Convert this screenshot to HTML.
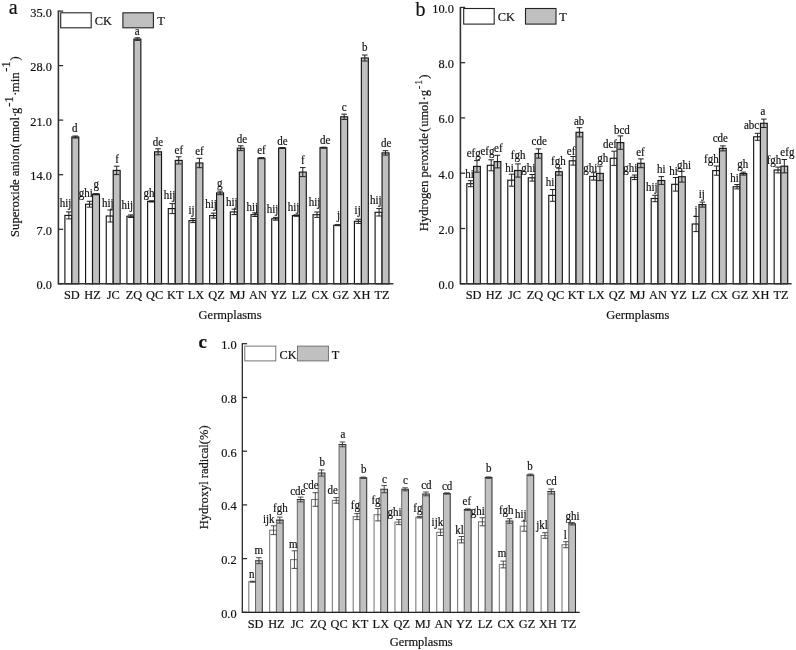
<!DOCTYPE html>
<html><head><meta charset="utf-8"><title>chart</title>
<style>html,body{margin:0;padding:0;background:#fff;}svg{display:block;will-change:transform;filter:grayscale(1);}text{font-family:"Liberation Serif",serif;fill:#111;stroke:#111;stroke-width:0.18px;}</style></head><body>
<svg width="796" height="650" viewBox="0 0 796 650">
<rect x="0" y="0" width="796" height="650" fill="#fff"/>
<g id="panel-a">
<rect x="64.9" y="215.4" width="6.95" height="68.4" fill="#fff" stroke="#151515" stroke-width="1.15"/>
<rect x="71.85" y="137" width="6.95" height="146.8" fill="#c0c0c0" stroke="#151515" stroke-width="1.15"/>
<rect x="85.58" y="204.2" width="6.95" height="79.6" fill="#fff" stroke="#151515" stroke-width="1.15"/>
<rect x="92.53" y="194.2" width="6.95" height="89.6" fill="#c0c0c0" stroke="#151515" stroke-width="1.15"/>
<rect x="106.26" y="216" width="6.95" height="67.8" fill="#fff" stroke="#151515" stroke-width="1.15"/>
<rect x="113.21" y="170.4" width="6.95" height="113.4" fill="#c0c0c0" stroke="#151515" stroke-width="1.15"/>
<rect x="126.94" y="216.2" width="6.95" height="67.6" fill="#fff" stroke="#151515" stroke-width="1.15"/>
<rect x="133.89" y="39.1" width="6.95" height="244.7" fill="#c0c0c0" stroke="#151515" stroke-width="1.15"/>
<rect x="147.62" y="201.4" width="6.95" height="82.4" fill="#fff" stroke="#151515" stroke-width="1.15"/>
<rect x="154.57" y="151.8" width="6.95" height="132" fill="#c0c0c0" stroke="#151515" stroke-width="1.15"/>
<rect x="168.3" y="208.6" width="6.95" height="75.2" fill="#fff" stroke="#151515" stroke-width="1.15"/>
<rect x="175.25" y="160.4" width="6.95" height="123.4" fill="#c0c0c0" stroke="#151515" stroke-width="1.15"/>
<rect x="188.98" y="220.6" width="6.95" height="63.2" fill="#fff" stroke="#151515" stroke-width="1.15"/>
<rect x="195.93" y="163" width="6.95" height="120.8" fill="#c0c0c0" stroke="#151515" stroke-width="1.15"/>
<rect x="209.66" y="215.6" width="6.95" height="68.2" fill="#fff" stroke="#151515" stroke-width="1.15"/>
<rect x="216.61" y="192.9" width="6.95" height="90.9" fill="#c0c0c0" stroke="#151515" stroke-width="1.15"/>
<rect x="230.34" y="211.9" width="6.95" height="71.9" fill="#fff" stroke="#151515" stroke-width="1.15"/>
<rect x="237.29" y="148.2" width="6.95" height="135.6" fill="#c0c0c0" stroke="#151515" stroke-width="1.15"/>
<rect x="251.02" y="214.7" width="6.95" height="69.1" fill="#fff" stroke="#151515" stroke-width="1.15"/>
<rect x="257.97" y="158.2" width="6.95" height="125.6" fill="#c0c0c0" stroke="#151515" stroke-width="1.15"/>
<rect x="271.7" y="218.8" width="6.95" height="65" fill="#fff" stroke="#151515" stroke-width="1.15"/>
<rect x="278.65" y="148" width="6.95" height="135.8" fill="#c0c0c0" stroke="#151515" stroke-width="1.15"/>
<rect x="292.38" y="215.6" width="6.95" height="68.2" fill="#fff" stroke="#151515" stroke-width="1.15"/>
<rect x="299.33" y="172.1" width="6.95" height="111.7" fill="#c0c0c0" stroke="#151515" stroke-width="1.15"/>
<rect x="313.06" y="214.7" width="6.95" height="69.1" fill="#fff" stroke="#151515" stroke-width="1.15"/>
<rect x="320.01" y="147.7" width="6.95" height="136.1" fill="#c0c0c0" stroke="#151515" stroke-width="1.15"/>
<rect x="333.74" y="225.2" width="6.95" height="58.6" fill="#fff" stroke="#151515" stroke-width="1.15"/>
<rect x="340.69" y="116.8" width="6.95" height="167" fill="#c0c0c0" stroke="#151515" stroke-width="1.15"/>
<rect x="354.42" y="221.3" width="6.95" height="62.5" fill="#fff" stroke="#151515" stroke-width="1.15"/>
<rect x="361.37" y="58" width="6.95" height="225.8" fill="#c0c0c0" stroke="#151515" stroke-width="1.15"/>
<rect x="375.1" y="212.3" width="6.95" height="71.5" fill="#fff" stroke="#151515" stroke-width="1.15"/>
<rect x="382.05" y="152.9" width="6.95" height="130.9" fill="#c0c0c0" stroke="#151515" stroke-width="1.15"/>
<path d="M68.88 211.9V218.9M66.08 211.9H71.67M66.08 218.9H71.67" stroke="#222" stroke-width="1.0" fill="none"/>
<path d="M75.33 136V138M72.53 136H78.12M72.53 138H78.12" stroke="#222" stroke-width="1.0" fill="none"/>
<path d="M89.56 201.3V207.1M86.76 201.3H92.36M86.76 207.1H92.36" stroke="#222" stroke-width="1.0" fill="none"/>
<path d="M96.01 193.6V194.8M93.21 193.6H98.81M93.21 194.8H98.81" stroke="#222" stroke-width="1.0" fill="none"/>
<path d="M110.23 210V222M107.44 210H113.03M107.44 222H113.03" stroke="#222" stroke-width="1.0" fill="none"/>
<path d="M116.69 166.2V174.6M113.89 166.2H119.48M113.89 174.6H119.48" stroke="#222" stroke-width="1.0" fill="none"/>
<path d="M130.91 214.9V217.5M128.11 214.9H133.72M128.11 217.5H133.72" stroke="#222" stroke-width="1.0" fill="none"/>
<path d="M137.36 37.8V40.4M134.56 37.8H140.16M134.56 40.4H140.16" stroke="#222" stroke-width="1.0" fill="none"/>
<path d="M151.59 200.8V202M148.79 200.8H154.4M148.79 202H154.4" stroke="#222" stroke-width="1.0" fill="none"/>
<path d="M158.04 148.8V154.8M155.24 148.8H160.84M155.24 154.8H160.84" stroke="#222" stroke-width="1.0" fill="none"/>
<path d="M172.28 203.6V213.6M169.47 203.6H175.08M169.47 213.6H175.08" stroke="#222" stroke-width="1.0" fill="none"/>
<path d="M178.72 156.8V164M175.92 156.8H181.53M175.92 164H181.53" stroke="#222" stroke-width="1.0" fill="none"/>
<path d="M192.96 218.6V222.6M190.16 218.6H195.76M190.16 222.6H195.76" stroke="#222" stroke-width="1.0" fill="none"/>
<path d="M199.41 158.3V167.7M196.6 158.3H202.21M196.6 167.7H202.21" stroke="#222" stroke-width="1.0" fill="none"/>
<path d="M213.63 213.1V218.1M210.83 213.1H216.44M210.83 218.1H216.44" stroke="#222" stroke-width="1.0" fill="none"/>
<path d="M220.08 191.1V194.7M217.28 191.1H222.88M217.28 194.7H222.88" stroke="#222" stroke-width="1.0" fill="none"/>
<path d="M234.31 209.2V214.6M231.51 209.2H237.12M231.51 214.6H237.12" stroke="#222" stroke-width="1.0" fill="none"/>
<path d="M240.76 145.8V150.6M237.96 145.8H243.56M237.96 150.6H243.56" stroke="#222" stroke-width="1.0" fill="none"/>
<path d="M255 212.9V216.5M252.19 212.9H257.8M252.19 216.5H257.8" stroke="#222" stroke-width="1.0" fill="none"/>
<path d="M261.45 157.7V158.7M258.65 157.7H264.25M258.65 158.7H264.25" stroke="#222" stroke-width="1.0" fill="none"/>
<path d="M275.68 217.4V220.2M272.88 217.4H278.48M272.88 220.2H278.48" stroke="#222" stroke-width="1.0" fill="none"/>
<path d="M282.13 147.5V148.5M279.33 147.5H284.93M279.33 148.5H284.93" stroke="#222" stroke-width="1.0" fill="none"/>
<path d="M296.36 214.9V216.3M293.56 214.9H299.16M293.56 216.3H299.16" stroke="#222" stroke-width="1.0" fill="none"/>
<path d="M302.81 167.6V176.6M300 167.6H305.61M300 176.6H305.61" stroke="#222" stroke-width="1.0" fill="none"/>
<path d="M317.04 212V217.4M314.24 212H319.84M314.24 217.4H319.84" stroke="#222" stroke-width="1.0" fill="none"/>
<path d="M323.49 147.2V148.2M320.69 147.2H326.29M320.69 148.2H326.29" stroke="#222" stroke-width="1.0" fill="none"/>
<path d="M337.72 224.7V225.7M334.92 224.7H340.52M334.92 225.7H340.52" stroke="#222" stroke-width="1.0" fill="none"/>
<path d="M344.17 114.2V119.4M341.37 114.2H346.97M341.37 119.4H346.97" stroke="#222" stroke-width="1.0" fill="none"/>
<path d="M358.39 219.2V223.4M355.59 219.2H361.19M355.59 223.4H361.19" stroke="#222" stroke-width="1.0" fill="none"/>
<path d="M364.84 55V61M362.04 55H367.64M362.04 61H367.64" stroke="#222" stroke-width="1.0" fill="none"/>
<path d="M379.08 208.6V216M376.28 208.6H381.88M376.28 216H381.88" stroke="#222" stroke-width="1.0" fill="none"/>
<path d="M385.53 150.7V155.1M382.73 150.7H388.33M382.73 155.1H388.33" stroke="#222" stroke-width="1.0" fill="none"/>
<text transform="translate(59.81 207.3) scale(1.0 1.065)" font-size="11.0">hij</text>
<text transform="translate(71.93 131.8) scale(1.0 1.065)" font-size="11.0">d</text>
<text transform="translate(78.64 196.6) scale(1.0 1.065)" font-size="11.0">ghi</text>
<text transform="translate(93.61 187.6) scale(1.0 1.065)" font-size="11.0">g</text>
<text transform="translate(101.91 206.7) scale(1.0 1.065)" font-size="11.0">hij</text>
<text transform="translate(115.31 162.8) scale(1.0 1.065)" font-size="11.0">f</text>
<text transform="translate(121.51 208.6) scale(1.0 1.065)" font-size="11.0">hij</text>
<text transform="translate(134.84 35) scale(1.0 1.065)" font-size="11.0">a</text>
<text transform="translate(143.53 197.3) scale(1.0 1.065)" font-size="11.0">gh</text>
<text transform="translate(152.7 145.8) scale(1.0 1.065)" font-size="11.0">de</text>
<text transform="translate(163.81 199.3) scale(1.0 1.065)" font-size="11.0">hij</text>
<text transform="translate(174.52 153.5) scale(1.0 1.065)" font-size="11.0">ef</text>
<text transform="translate(188.5 214.4) scale(1.0 1.065)" font-size="11.0">ij</text>
<text transform="translate(195.22 155) scale(1.0 1.065)" font-size="11.0">ef</text>
<text transform="translate(205.21 208) scale(1.0 1.065)" font-size="11.0">hij</text>
<text transform="translate(217.11 186.5) scale(1.0 1.065)" font-size="11.0">g</text>
<text transform="translate(225.91 205.6) scale(1.0 1.065)" font-size="11.0">hij</text>
<text transform="translate(236.8 142.5) scale(1.0 1.065)" font-size="11.0">de</text>
<text transform="translate(246.41 210.8) scale(1.0 1.065)" font-size="11.0">hij</text>
<text transform="translate(257.22 153.5) scale(1.0 1.065)" font-size="11.0">ef</text>
<text transform="translate(266.71 212.6) scale(1.0 1.065)" font-size="11.0">hij</text>
<text transform="translate(277.2 144.7) scale(1.0 1.065)" font-size="11.0">de</text>
<text transform="translate(287.71 210.8) scale(1.0 1.065)" font-size="11.0">hij</text>
<text transform="translate(301.11 163.7) scale(1.0 1.065)" font-size="11.0">f</text>
<text transform="translate(308.81 206.1) scale(1.0 1.065)" font-size="11.0">hij</text>
<text transform="translate(319.9 143.9) scale(1.0 1.065)" font-size="11.0">de</text>
<text transform="translate(336.91 218.8) scale(1.0 1.065)" font-size="11.0">j</text>
<text transform="translate(341.82 111.1) scale(1.0 1.065)" font-size="11.0">c</text>
<text transform="translate(354.61 214.4) scale(1.0 1.065)" font-size="11.0">ij</text>
<text transform="translate(361.96 51.3) scale(1.0 1.065)" font-size="11.0">b</text>
<text transform="translate(370.01 204.3) scale(1.0 1.065)" font-size="11.0">hij</text>
<text transform="translate(381 147.1) scale(1.0 1.065)" font-size="11.0">de</text>
<path d="M58.4 10.6V283.8H393.4" stroke="#333" stroke-width="1.6" fill="none"/>
<path d="M58.4 283.8H63.2" stroke="#2a2a2a" stroke-width="1.25"/>
<text transform="translate(51.9 289.2) scale(0.99 1.06)" font-size="12.5" text-anchor="end">0.0</text>
<path d="M58.4 229.3H63.2" stroke="#2a2a2a" stroke-width="1.25"/>
<text transform="translate(51.9 234.7) scale(0.99 1.06)" font-size="12.5" text-anchor="end">7.0</text>
<path d="M58.4 174.7H63.2" stroke="#2a2a2a" stroke-width="1.25"/>
<text transform="translate(51.9 180.1) scale(0.99 1.06)" font-size="12.5" text-anchor="end">14.0</text>
<path d="M58.4 120.1H63.2" stroke="#2a2a2a" stroke-width="1.25"/>
<text transform="translate(51.9 125.5) scale(0.99 1.06)" font-size="12.5" text-anchor="end">21.0</text>
<path d="M58.4 65.6H63.2" stroke="#2a2a2a" stroke-width="1.25"/>
<text transform="translate(51.9 71) scale(0.99 1.06)" font-size="12.5" text-anchor="end">28.0</text>
<path d="M58.4 11.1H63.2" stroke="#2a2a2a" stroke-width="1.25"/>
<text transform="translate(51.9 16.5) scale(0.99 1.06)" font-size="12.5" text-anchor="end">35.0</text>
<text transform="translate(71.85 299) scale(0.99 1.06)" font-size="12.5" text-anchor="middle">SD</text>
<text transform="translate(92.53 299) scale(0.99 1.06)" font-size="12.5" text-anchor="middle">HZ</text>
<text transform="translate(113.21 299) scale(0.99 1.06)" font-size="12.5" text-anchor="middle">JC</text>
<text transform="translate(133.89 299) scale(0.99 1.06)" font-size="12.5" text-anchor="middle">ZQ</text>
<text transform="translate(154.57 299) scale(0.99 1.06)" font-size="12.5" text-anchor="middle">QC</text>
<text transform="translate(175.25 299) scale(0.99 1.06)" font-size="12.5" text-anchor="middle">KT</text>
<text transform="translate(195.93 299) scale(0.99 1.06)" font-size="12.5" text-anchor="middle">LX</text>
<text transform="translate(216.61 299) scale(0.99 1.06)" font-size="12.5" text-anchor="middle">QZ</text>
<text transform="translate(237.29 299) scale(0.99 1.06)" font-size="12.5" text-anchor="middle">MJ</text>
<text transform="translate(257.97 299) scale(0.99 1.06)" font-size="12.5" text-anchor="middle">AN</text>
<text transform="translate(278.65 299) scale(0.99 1.06)" font-size="12.5" text-anchor="middle">YZ</text>
<text transform="translate(299.33 299) scale(0.99 1.06)" font-size="12.5" text-anchor="middle">LZ</text>
<text transform="translate(320.01 299) scale(0.99 1.06)" font-size="12.5" text-anchor="middle">CX</text>
<text transform="translate(340.69 299) scale(0.99 1.06)" font-size="12.5" text-anchor="middle">GZ</text>
<text transform="translate(361.37 299) scale(0.99 1.06)" font-size="12.5" text-anchor="middle">XH</text>
<text transform="translate(382.05 299) scale(0.99 1.06)" font-size="12.5" text-anchor="middle">TZ</text>
</g>
<g id="panel-b">
<rect x="466.8" y="183.7" width="6.78" height="100.1" fill="#fff" stroke="#151515" stroke-width="1.15"/>
<rect x="473.58" y="166.4" width="6.78" height="117.4" fill="#c0c0c0" stroke="#151515" stroke-width="1.15"/>
<rect x="487.29" y="165.3" width="6.78" height="118.5" fill="#fff" stroke="#151515" stroke-width="1.15"/>
<rect x="494.07" y="161.6" width="6.78" height="122.2" fill="#c0c0c0" stroke="#151515" stroke-width="1.15"/>
<rect x="507.78" y="180.2" width="6.78" height="103.6" fill="#fff" stroke="#151515" stroke-width="1.15"/>
<rect x="514.56" y="170.5" width="6.78" height="113.3" fill="#c0c0c0" stroke="#151515" stroke-width="1.15"/>
<rect x="528.27" y="177.8" width="6.78" height="106" fill="#fff" stroke="#151515" stroke-width="1.15"/>
<rect x="535.05" y="153.5" width="6.78" height="130.3" fill="#c0c0c0" stroke="#151515" stroke-width="1.15"/>
<rect x="548.76" y="195.4" width="6.78" height="88.4" fill="#fff" stroke="#151515" stroke-width="1.15"/>
<rect x="555.54" y="171.7" width="6.78" height="112.1" fill="#c0c0c0" stroke="#151515" stroke-width="1.15"/>
<rect x="569.25" y="160.8" width="6.78" height="123" fill="#fff" stroke="#151515" stroke-width="1.15"/>
<rect x="576.03" y="132.3" width="6.78" height="151.5" fill="#c0c0c0" stroke="#151515" stroke-width="1.15"/>
<rect x="589.74" y="176.4" width="6.78" height="107.4" fill="#fff" stroke="#151515" stroke-width="1.15"/>
<rect x="596.52" y="173.4" width="6.78" height="110.4" fill="#c0c0c0" stroke="#151515" stroke-width="1.15"/>
<rect x="610.23" y="158.3" width="6.78" height="125.5" fill="#fff" stroke="#151515" stroke-width="1.15"/>
<rect x="617.01" y="142.6" width="6.78" height="141.2" fill="#c0c0c0" stroke="#151515" stroke-width="1.15"/>
<rect x="630.72" y="177.3" width="6.78" height="106.5" fill="#fff" stroke="#151515" stroke-width="1.15"/>
<rect x="637.5" y="163.3" width="6.78" height="120.5" fill="#c0c0c0" stroke="#151515" stroke-width="1.15"/>
<rect x="651.21" y="198.5" width="6.78" height="85.3" fill="#fff" stroke="#151515" stroke-width="1.15"/>
<rect x="657.99" y="180.5" width="6.78" height="103.3" fill="#c0c0c0" stroke="#151515" stroke-width="1.15"/>
<rect x="671.7" y="184.3" width="6.78" height="99.5" fill="#fff" stroke="#151515" stroke-width="1.15"/>
<rect x="678.48" y="176.7" width="6.78" height="107.1" fill="#c0c0c0" stroke="#151515" stroke-width="1.15"/>
<rect x="692.19" y="224" width="6.78" height="59.8" fill="#fff" stroke="#151515" stroke-width="1.15"/>
<rect x="698.97" y="204.6" width="6.78" height="79.2" fill="#c0c0c0" stroke="#151515" stroke-width="1.15"/>
<rect x="712.68" y="170.6" width="6.78" height="113.2" fill="#fff" stroke="#151515" stroke-width="1.15"/>
<rect x="719.46" y="148.4" width="6.78" height="135.4" fill="#c0c0c0" stroke="#151515" stroke-width="1.15"/>
<rect x="733.17" y="186.7" width="6.78" height="97.1" fill="#fff" stroke="#151515" stroke-width="1.15"/>
<rect x="739.95" y="173.6" width="6.78" height="110.2" fill="#c0c0c0" stroke="#151515" stroke-width="1.15"/>
<rect x="753.66" y="136.8" width="6.78" height="147" fill="#fff" stroke="#151515" stroke-width="1.15"/>
<rect x="760.44" y="123.3" width="6.78" height="160.5" fill="#c0c0c0" stroke="#151515" stroke-width="1.15"/>
<rect x="774.15" y="170" width="6.78" height="113.8" fill="#fff" stroke="#151515" stroke-width="1.15"/>
<rect x="780.93" y="166.2" width="6.78" height="117.6" fill="#c0c0c0" stroke="#151515" stroke-width="1.15"/>
<path d="M470.69 180.7V186.7M467.89 180.7H473.49M467.89 186.7H473.49" stroke="#222" stroke-width="1.0" fill="none"/>
<path d="M476.97 160.6V172.2M474.17 160.6H479.77M474.17 172.2H479.77" stroke="#222" stroke-width="1.0" fill="none"/>
<path d="M491.18 159.8V170.8M488.38 159.8H493.98M488.38 170.8H493.98" stroke="#222" stroke-width="1.0" fill="none"/>
<path d="M497.46 155.3V167.9M494.66 155.3H500.26M494.66 167.9H500.26" stroke="#222" stroke-width="1.0" fill="none"/>
<path d="M511.67 174.2V186.2M508.87 174.2H514.47M508.87 186.2H514.47" stroke="#222" stroke-width="1.0" fill="none"/>
<path d="M517.95 163.9V177.1M515.15 163.9H520.75M515.15 177.1H520.75" stroke="#222" stroke-width="1.0" fill="none"/>
<path d="M532.16 174.5V181.1M529.36 174.5H534.96M529.36 181.1H534.96" stroke="#222" stroke-width="1.0" fill="none"/>
<path d="M538.44 148.9V158.1M535.64 148.9H541.24M535.64 158.1H541.24" stroke="#222" stroke-width="1.0" fill="none"/>
<path d="M552.65 189.5V201.3M549.85 189.5H555.45M549.85 201.3H555.45" stroke="#222" stroke-width="1.0" fill="none"/>
<path d="M558.93 168.2V175.2M556.13 168.2H561.73M556.13 175.2H561.73" stroke="#222" stroke-width="1.0" fill="none"/>
<path d="M573.14 156.5V165.1M570.34 156.5H575.94M570.34 165.1H575.94" stroke="#222" stroke-width="1.0" fill="none"/>
<path d="M579.42 127.7V136.9M576.62 127.7H582.22M576.62 136.9H582.22" stroke="#222" stroke-width="1.0" fill="none"/>
<path d="M593.63 172.7V180.1M590.83 172.7H596.43M590.83 180.1H596.43" stroke="#222" stroke-width="1.0" fill="none"/>
<path d="M599.91 166.2V180.6M597.11 166.2H602.71M597.11 180.6H602.71" stroke="#222" stroke-width="1.0" fill="none"/>
<path d="M614.12 151.2V165.4M611.32 151.2H616.92M611.32 165.4H616.92" stroke="#222" stroke-width="1.0" fill="none"/>
<path d="M620.4 135.9V149.3M617.6 135.9H623.2M617.6 149.3H623.2" stroke="#222" stroke-width="1.0" fill="none"/>
<path d="M634.61 175V179.6M631.81 175H637.41M631.81 179.6H637.41" stroke="#222" stroke-width="1.0" fill="none"/>
<path d="M640.89 158.9V167.7M638.09 158.9H643.69M638.09 167.7H643.69" stroke="#222" stroke-width="1.0" fill="none"/>
<path d="M655.1 195.3V201.7M652.3 195.3H657.9M652.3 201.7H657.9" stroke="#222" stroke-width="1.0" fill="none"/>
<path d="M661.38 176.6V184.4M658.58 176.6H664.18M658.58 184.4H664.18" stroke="#222" stroke-width="1.0" fill="none"/>
<path d="M675.59 177.5V191.1M672.79 177.5H678.39M672.79 191.1H678.39" stroke="#222" stroke-width="1.0" fill="none"/>
<path d="M681.87 171.3V182.1M679.07 171.3H684.67M679.07 182.1H684.67" stroke="#222" stroke-width="1.0" fill="none"/>
<path d="M696.08 216.4V231.6M693.28 216.4H698.88M693.28 231.6H698.88" stroke="#222" stroke-width="1.0" fill="none"/>
<path d="M702.36 202.1V207.1M699.56 202.1H705.16M699.56 207.1H705.16" stroke="#222" stroke-width="1.0" fill="none"/>
<path d="M716.57 166V175.2M713.77 166H719.37M713.77 175.2H719.37" stroke="#222" stroke-width="1.0" fill="none"/>
<path d="M722.85 145.9V150.9M720.05 145.9H725.65M720.05 150.9H725.65" stroke="#222" stroke-width="1.0" fill="none"/>
<path d="M737.06 184.5V188.9M734.26 184.5H739.86M734.26 188.9H739.86" stroke="#222" stroke-width="1.0" fill="none"/>
<path d="M743.34 172.1V175.1M740.54 172.1H746.14M740.54 175.1H746.14" stroke="#222" stroke-width="1.0" fill="none"/>
<path d="M757.55 133.3V140.3M754.75 133.3H760.35M754.75 140.3H760.35" stroke="#222" stroke-width="1.0" fill="none"/>
<path d="M763.83 119.1V127.5M761.03 119.1H766.63M761.03 127.5H766.63" stroke="#222" stroke-width="1.0" fill="none"/>
<path d="M778.04 167.1V172.9M775.24 167.1H780.84M775.24 172.9H780.84" stroke="#222" stroke-width="1.0" fill="none"/>
<path d="M784.32 159.5V172.9M781.52 159.5H787.12M781.52 172.9H787.12" stroke="#222" stroke-width="1.0" fill="none"/>
<text transform="translate(465.26 178) scale(1.0 1.065)" font-size="11.0">hi</text>
<text transform="translate(466.66 157.3) scale(1.0 1.065)" font-size="11.0">efg</text>
<text transform="translate(480.46 155.4) scale(1.0 1.065)" font-size="11.0">efg</text>
<text transform="translate(494.02 152.3) scale(1.0 1.065)" font-size="11.0">ef</text>
<text transform="translate(505.26 172.3) scale(1.0 1.065)" font-size="11.0">hi</text>
<text transform="translate(510.87 159.2) scale(1.0 1.065)" font-size="11.0">fgh</text>
<text transform="translate(521.24 171.7) scale(1.0 1.065)" font-size="11.0">ghi</text>
<text transform="translate(531.54 145.3) scale(1.0 1.065)" font-size="11.0">cde</text>
<text transform="translate(545.87 186.3) scale(1.0 1.065)" font-size="11.0">hi</text>
<text transform="translate(550.98 164.6) scale(1.0 1.065)" font-size="11.0">fgh</text>
<text transform="translate(566.82 154.7) scale(1.0 1.065)" font-size="11.0">ef</text>
<text transform="translate(573.92 125.1) scale(1.0 1.065)" font-size="11.0">ab</text>
<text transform="translate(583.14 171.8) scale(1.0 1.065)" font-size="11.0">ghi</text>
<text transform="translate(597.24 162.3) scale(1.0 1.065)" font-size="11.0">gh</text>
<text transform="translate(602.88 148.3) scale(1.0 1.065)" font-size="11.0">def</text>
<text transform="translate(613.92 133.9) scale(1.0 1.065)" font-size="11.0">bcd</text>
<text transform="translate(623.24 172.3) scale(1.0 1.065)" font-size="11.0">ghi</text>
<text transform="translate(636.22 155.8) scale(1.0 1.065)" font-size="11.0">ef</text>
<text transform="translate(645.91 191) scale(1.0 1.065)" font-size="11.0">hij</text>
<text transform="translate(657.06 173) scale(1.0 1.065)" font-size="11.0">hi</text>
<text transform="translate(669.26 174.9) scale(1.0 1.065)" font-size="11.0">hi</text>
<text transform="translate(676.94 168.6) scale(1.0 1.065)" font-size="11.0">ghi</text>
<text transform="translate(694.41 213.5) scale(1.0 1.065)" font-size="11.0">j</text>
<text transform="translate(698.7 198.3) scale(1.0 1.065)" font-size="11.0">ij</text>
<text transform="translate(703.98 162.5) scale(1.0 1.065)" font-size="11.0">fgh</text>
<text transform="translate(712.64 142.1) scale(1.0 1.065)" font-size="11.0">cde</text>
<text transform="translate(730.37 181.6) scale(1.0 1.065)" font-size="11.0">hi</text>
<text transform="translate(737.13 168) scale(1.0 1.065)" font-size="11.0">gh</text>
<text transform="translate(743.94 129.2) scale(1.0 1.065)" font-size="11.0">abc</text>
<text transform="translate(760.44 114.6) scale(1.0 1.065)" font-size="11.0">a</text>
<text transform="translate(766.68 163.7) scale(1.0 1.065)" font-size="11.0">fgh</text>
<text transform="translate(780.36 156) scale(1.0 1.065)" font-size="11.0">efg</text>
<path d="M460.4 6.9V283.8H791.6" stroke="#333" stroke-width="1.6" fill="none"/>
<path d="M460.4 283.8H465.2" stroke="#2a2a2a" stroke-width="1.25"/>
<text transform="translate(453.9 289.2) scale(0.99 1.06)" font-size="12.5" text-anchor="end">0.0</text>
<path d="M460.4 228.5H465.2" stroke="#2a2a2a" stroke-width="1.25"/>
<text transform="translate(453.9 233.9) scale(0.99 1.06)" font-size="12.5" text-anchor="end">2.0</text>
<path d="M460.4 173.2H465.2" stroke="#2a2a2a" stroke-width="1.25"/>
<text transform="translate(453.9 178.6) scale(0.99 1.06)" font-size="12.5" text-anchor="end">4.0</text>
<path d="M460.4 117.9H465.2" stroke="#2a2a2a" stroke-width="1.25"/>
<text transform="translate(453.9 123.3) scale(0.99 1.06)" font-size="12.5" text-anchor="end">6.0</text>
<path d="M460.4 62.7H465.2" stroke="#2a2a2a" stroke-width="1.25"/>
<text transform="translate(453.9 68.1) scale(0.99 1.06)" font-size="12.5" text-anchor="end">8.0</text>
<path d="M460.4 7.4H465.2" stroke="#2a2a2a" stroke-width="1.25"/>
<text transform="translate(453.9 12.8) scale(0.99 1.06)" font-size="12.5" text-anchor="end">10.0</text>
<text transform="translate(473.58 299) scale(0.99 1.06)" font-size="12.5" text-anchor="middle">SD</text>
<text transform="translate(494.07 299) scale(0.99 1.06)" font-size="12.5" text-anchor="middle">HZ</text>
<text transform="translate(514.56 299) scale(0.99 1.06)" font-size="12.5" text-anchor="middle">JC</text>
<text transform="translate(535.05 299) scale(0.99 1.06)" font-size="12.5" text-anchor="middle">ZQ</text>
<text transform="translate(555.54 299) scale(0.99 1.06)" font-size="12.5" text-anchor="middle">QC</text>
<text transform="translate(576.03 299) scale(0.99 1.06)" font-size="12.5" text-anchor="middle">KT</text>
<text transform="translate(596.52 299) scale(0.99 1.06)" font-size="12.5" text-anchor="middle">LX</text>
<text transform="translate(617.01 299) scale(0.99 1.06)" font-size="12.5" text-anchor="middle">QZ</text>
<text transform="translate(637.5 299) scale(0.99 1.06)" font-size="12.5" text-anchor="middle">MJ</text>
<text transform="translate(657.99 299) scale(0.99 1.06)" font-size="12.5" text-anchor="middle">AN</text>
<text transform="translate(678.48 299) scale(0.99 1.06)" font-size="12.5" text-anchor="middle">YZ</text>
<text transform="translate(698.97 299) scale(0.99 1.06)" font-size="12.5" text-anchor="middle">LZ</text>
<text transform="translate(719.46 299) scale(0.99 1.06)" font-size="12.5" text-anchor="middle">CX</text>
<text transform="translate(739.95 299) scale(0.99 1.06)" font-size="12.5" text-anchor="middle">GZ</text>
<text transform="translate(760.44 299) scale(0.99 1.06)" font-size="12.5" text-anchor="middle">XH</text>
<text transform="translate(780.93 299) scale(0.99 1.06)" font-size="12.5" text-anchor="middle">TZ</text>
</g>
<g id="panel-c">
<rect x="248.8" y="581.7" width="6.75" height="30.6" fill="#fff" stroke="#7c7c7c" stroke-width="1.1"/>
<rect x="255.55" y="560.7" width="6.75" height="51.6" fill="#c0c0c0"/>
<path d="M255.55 612.3V560.7" stroke="#666" stroke-width="1" fill="none"/>
<path d="M255.05 560.7H262.3V612.3" stroke="#333" stroke-width="1.05" fill="none"/>
<rect x="269.68" y="530.2" width="6.75" height="82.1" fill="#fff" stroke="#7c7c7c" stroke-width="1.1"/>
<rect x="276.43" y="520.1" width="6.75" height="92.2" fill="#c0c0c0"/>
<path d="M276.43 612.3V520.1" stroke="#666" stroke-width="1" fill="none"/>
<path d="M275.93 520.1H283.18V612.3" stroke="#333" stroke-width="1.05" fill="none"/>
<rect x="290.56" y="559.6" width="6.75" height="52.7" fill="#fff" stroke="#7c7c7c" stroke-width="1.1"/>
<rect x="297.31" y="499.5" width="6.75" height="112.8" fill="#c0c0c0"/>
<path d="M297.31 612.3V499.5" stroke="#666" stroke-width="1" fill="none"/>
<path d="M296.81 499.5H304.06V612.3" stroke="#333" stroke-width="1.05" fill="none"/>
<rect x="311.44" y="499.5" width="6.75" height="112.8" fill="#fff" stroke="#7c7c7c" stroke-width="1.1"/>
<rect x="318.19" y="473" width="6.75" height="139.3" fill="#c0c0c0"/>
<path d="M318.19 612.3V473" stroke="#666" stroke-width="1" fill="none"/>
<path d="M317.69 473H324.94V612.3" stroke="#333" stroke-width="1.05" fill="none"/>
<rect x="332.32" y="500.4" width="6.75" height="111.9" fill="#fff" stroke="#7c7c7c" stroke-width="1.1"/>
<rect x="339.07" y="444.4" width="6.75" height="167.9" fill="#c0c0c0"/>
<path d="M339.07 612.3V444.4" stroke="#666" stroke-width="1" fill="none"/>
<path d="M338.57 444.4H345.82V612.3" stroke="#333" stroke-width="1.05" fill="none"/>
<rect x="353.2" y="516.6" width="6.75" height="95.7" fill="#fff" stroke="#7c7c7c" stroke-width="1.1"/>
<rect x="359.95" y="477.8" width="6.75" height="134.5" fill="#c0c0c0"/>
<path d="M359.95 612.3V477.8" stroke="#666" stroke-width="1" fill="none"/>
<path d="M359.45 477.8H366.7V612.3" stroke="#333" stroke-width="1.05" fill="none"/>
<rect x="374.08" y="514.7" width="6.75" height="97.6" fill="#fff" stroke="#7c7c7c" stroke-width="1.1"/>
<rect x="380.83" y="489.2" width="6.75" height="123.1" fill="#c0c0c0"/>
<path d="M380.83 612.3V489.2" stroke="#666" stroke-width="1" fill="none"/>
<path d="M380.33 489.2H387.58V612.3" stroke="#333" stroke-width="1.05" fill="none"/>
<rect x="394.96" y="522.1" width="6.75" height="90.2" fill="#fff" stroke="#7c7c7c" stroke-width="1.1"/>
<rect x="401.71" y="489.3" width="6.75" height="123" fill="#c0c0c0"/>
<path d="M401.71 612.3V489.3" stroke="#666" stroke-width="1" fill="none"/>
<path d="M401.21 489.3H408.46V612.3" stroke="#333" stroke-width="1.05" fill="none"/>
<rect x="415.84" y="517.2" width="6.75" height="95.1" fill="#fff" stroke="#7c7c7c" stroke-width="1.1"/>
<rect x="422.59" y="493.9" width="6.75" height="118.4" fill="#c0c0c0"/>
<path d="M422.59 612.3V493.9" stroke="#666" stroke-width="1" fill="none"/>
<path d="M422.09 493.9H429.34V612.3" stroke="#333" stroke-width="1.05" fill="none"/>
<rect x="436.72" y="532.3" width="6.75" height="80" fill="#fff" stroke="#7c7c7c" stroke-width="1.1"/>
<rect x="443.47" y="493.5" width="6.75" height="118.8" fill="#c0c0c0"/>
<path d="M443.47 612.3V493.5" stroke="#666" stroke-width="1" fill="none"/>
<path d="M442.97 493.5H450.22V612.3" stroke="#333" stroke-width="1.05" fill="none"/>
<rect x="457.6" y="539.7" width="6.75" height="72.6" fill="#fff" stroke="#7c7c7c" stroke-width="1.1"/>
<rect x="464.35" y="509.6" width="6.75" height="102.7" fill="#c0c0c0"/>
<path d="M464.35 612.3V509.6" stroke="#666" stroke-width="1" fill="none"/>
<path d="M463.85 509.6H471.1V612.3" stroke="#333" stroke-width="1.05" fill="none"/>
<rect x="478.48" y="521.8" width="6.75" height="90.5" fill="#fff" stroke="#7c7c7c" stroke-width="1.1"/>
<rect x="485.23" y="477.6" width="6.75" height="134.7" fill="#c0c0c0"/>
<path d="M485.23 612.3V477.6" stroke="#666" stroke-width="1" fill="none"/>
<path d="M484.73 477.6H491.98V612.3" stroke="#333" stroke-width="1.05" fill="none"/>
<rect x="499.36" y="564.5" width="6.75" height="47.8" fill="#fff" stroke="#7c7c7c" stroke-width="1.1"/>
<rect x="506.11" y="521" width="6.75" height="91.3" fill="#c0c0c0"/>
<path d="M506.11 612.3V521" stroke="#666" stroke-width="1" fill="none"/>
<path d="M505.61 521H512.86V612.3" stroke="#333" stroke-width="1.05" fill="none"/>
<rect x="520.24" y="526.2" width="6.75" height="86.1" fill="#fff" stroke="#7c7c7c" stroke-width="1.1"/>
<rect x="526.99" y="474.9" width="6.75" height="137.4" fill="#c0c0c0"/>
<path d="M526.99 612.3V474.9" stroke="#666" stroke-width="1" fill="none"/>
<path d="M526.49 474.9H533.74V612.3" stroke="#333" stroke-width="1.05" fill="none"/>
<rect x="541.12" y="535.5" width="6.75" height="76.8" fill="#fff" stroke="#7c7c7c" stroke-width="1.1"/>
<rect x="547.87" y="491.5" width="6.75" height="120.8" fill="#c0c0c0"/>
<path d="M547.87 612.3V491.5" stroke="#666" stroke-width="1" fill="none"/>
<path d="M547.37 491.5H554.62V612.3" stroke="#333" stroke-width="1.05" fill="none"/>
<rect x="562" y="544.7" width="6.75" height="67.6" fill="#fff" stroke="#7c7c7c" stroke-width="1.1"/>
<rect x="568.75" y="523.8" width="6.75" height="88.5" fill="#c0c0c0"/>
<path d="M568.75 612.3V523.8" stroke="#666" stroke-width="1" fill="none"/>
<path d="M568.25 523.8H575.5V612.3" stroke="#333" stroke-width="1.05" fill="none"/>
<path d="M252.68 581.2V582.2M249.88 581.2H255.48M249.88 582.2H255.48" stroke="#3a3a3a" stroke-width="0.9" fill="none"/>
<path d="M258.93 557.7V563.7M256.12 557.7H261.73M256.12 563.7H261.73" stroke="#3a3a3a" stroke-width="0.9" fill="none"/>
<path d="M273.56 525.8V534.6M270.75 525.8H276.36M270.75 534.6H276.36" stroke="#3a3a3a" stroke-width="0.9" fill="none"/>
<path d="M279.81 517.1V523.1M277 517.1H282.61M277 523.1H282.61" stroke="#3a3a3a" stroke-width="0.9" fill="none"/>
<path d="M294.44 550.8V568.4M291.63 550.8H297.24M291.63 568.4H297.24" stroke="#3a3a3a" stroke-width="0.9" fill="none"/>
<path d="M300.69 497.1V501.9M297.88 497.1H303.49M297.88 501.9H303.49" stroke="#3a3a3a" stroke-width="0.9" fill="none"/>
<path d="M315.31 492.7V506.3M312.51 492.7H318.12M312.51 506.3H318.12" stroke="#3a3a3a" stroke-width="0.9" fill="none"/>
<path d="M321.56 469.9V476.1M318.76 469.9H324.37M318.76 476.1H324.37" stroke="#3a3a3a" stroke-width="0.9" fill="none"/>
<path d="M336.19 497.6V503.2M333.39 497.6H339M333.39 503.2H339" stroke="#3a3a3a" stroke-width="0.9" fill="none"/>
<path d="M342.44 442V446.8M339.64 442H345.25M339.64 446.8H345.25" stroke="#3a3a3a" stroke-width="0.9" fill="none"/>
<path d="M357.07 513.6V519.6M354.27 513.6H359.88M354.27 519.6H359.88" stroke="#3a3a3a" stroke-width="0.9" fill="none"/>
<path d="M363.32 477.1V478.5M360.52 477.1H366.12M360.52 478.5H366.12" stroke="#3a3a3a" stroke-width="0.9" fill="none"/>
<path d="M377.96 508.5V520.9M375.16 508.5H380.76M375.16 520.9H380.76" stroke="#3a3a3a" stroke-width="0.9" fill="none"/>
<path d="M384.21 485.6V492.8M381.41 485.6H387.01M381.41 492.8H387.01" stroke="#3a3a3a" stroke-width="0.9" fill="none"/>
<path d="M398.84 519.6V524.6M396.04 519.6H401.64M396.04 524.6H401.64" stroke="#3a3a3a" stroke-width="0.9" fill="none"/>
<path d="M405.09 487.8V490.8M402.29 487.8H407.89M402.29 490.8H407.89" stroke="#3a3a3a" stroke-width="0.9" fill="none"/>
<path d="M419.72 516.4V518M416.92 516.4H422.52M416.92 518H422.52" stroke="#3a3a3a" stroke-width="0.9" fill="none"/>
<path d="M425.97 492V495.8M423.17 492H428.77M423.17 495.8H428.77" stroke="#3a3a3a" stroke-width="0.9" fill="none"/>
<path d="M440.6 529.1V535.5M437.8 529.1H443.4M437.8 535.5H443.4" stroke="#3a3a3a" stroke-width="0.9" fill="none"/>
<path d="M446.85 492.8V494.2M444.05 492.8H449.65M444.05 494.2H449.65" stroke="#3a3a3a" stroke-width="0.9" fill="none"/>
<path d="M461.48 536.5V542.9M458.68 536.5H464.28M458.68 542.9H464.28" stroke="#3a3a3a" stroke-width="0.9" fill="none"/>
<path d="M467.73 508.9V510.3M464.93 508.9H470.53M464.93 510.3H470.53" stroke="#3a3a3a" stroke-width="0.9" fill="none"/>
<path d="M482.36 517.8V525.8M479.56 517.8H485.16M479.56 525.8H485.16" stroke="#3a3a3a" stroke-width="0.9" fill="none"/>
<path d="M488.61 476.9V478.3M485.81 476.9H491.41M485.81 478.3H491.41" stroke="#3a3a3a" stroke-width="0.9" fill="none"/>
<path d="M503.24 561.1V567.9M500.44 561.1H506.04M500.44 567.9H506.04" stroke="#3a3a3a" stroke-width="0.9" fill="none"/>
<path d="M509.49 518.7V523.3M506.69 518.7H512.28M506.69 523.3H512.28" stroke="#3a3a3a" stroke-width="0.9" fill="none"/>
<path d="M524.12 521.2V531.2M521.32 521.2H526.91M521.32 531.2H526.91" stroke="#3a3a3a" stroke-width="0.9" fill="none"/>
<path d="M530.37 474.1V475.7M527.57 474.1H533.16M527.57 475.7H533.16" stroke="#3a3a3a" stroke-width="0.9" fill="none"/>
<path d="M545 532.7V538.3M542.2 532.7H547.79M542.2 538.3H547.79" stroke="#3a3a3a" stroke-width="0.9" fill="none"/>
<path d="M551.25 489V494M548.45 489H554.04M548.45 494H554.04" stroke="#3a3a3a" stroke-width="0.9" fill="none"/>
<path d="M565.88 541.7V547.7M563.08 541.7H568.67M563.08 547.7H568.67" stroke="#3a3a3a" stroke-width="0.9" fill="none"/>
<path d="M572.12 522.6V525M569.33 522.6H574.92M569.33 525H574.92" stroke="#3a3a3a" stroke-width="0.9" fill="none"/>
<text transform="translate(249.11 578.3) scale(1.0 1.065)" font-size="11.0">n</text>
<text transform="translate(254.5 553.5) scale(1.0 1.065)" font-size="11.0">m</text>
<text transform="translate(262.89 522.5) scale(1.0 1.065)" font-size="11.0">ijk</text>
<text transform="translate(273.07 512.4) scale(1.0 1.065)" font-size="11.0">fgh</text>
<text transform="translate(289.1 547.8) scale(1.0 1.065)" font-size="11.0">m</text>
<text transform="translate(290.14 494.7) scale(1.0 1.065)" font-size="11.0">cde</text>
<text transform="translate(303.34 489) scale(1.0 1.065)" font-size="11.0">cde</text>
<text transform="translate(319.46 465.9) scale(1.0 1.065)" font-size="11.0">b</text>
<text transform="translate(327.6 494) scale(1.0 1.065)" font-size="11.0">de</text>
<text transform="translate(340.54 437.5) scale(1.0 1.065)" font-size="11.0">a</text>
<text transform="translate(350.75 508.5) scale(1.0 1.065)" font-size="11.0">fg</text>
<text transform="translate(361.06 472.9) scale(1.0 1.065)" font-size="11.0">b</text>
<text transform="translate(371.45 504.3) scale(1.0 1.065)" font-size="11.0">fg</text>
<text transform="translate(382.12 483.1) scale(1.0 1.065)" font-size="11.0">c</text>
<text transform="translate(387.44 516.3) scale(1.0 1.065)" font-size="11.0">ghi</text>
<text transform="translate(402.92 484) scale(1.0 1.065)" font-size="11.0">c</text>
<text transform="translate(413.35 511.9) scale(1.0 1.065)" font-size="11.0">fg</text>
<text transform="translate(421.17 489.2) scale(1.0 1.065)" font-size="11.0">cd</text>
<text transform="translate(431.59 526.1) scale(1.0 1.065)" font-size="11.0">ijk</text>
<text transform="translate(441.97 489.8) scale(1.0 1.065)" font-size="11.0">cd</text>
<text transform="translate(455.14 534.1) scale(1.0 1.065)" font-size="11.0">kl</text>
<text transform="translate(462.62 504.9) scale(1.0 1.065)" font-size="11.0">ef</text>
<text transform="translate(470.84 515.1) scale(1.0 1.065)" font-size="11.0">ghi</text>
<text transform="translate(486.06 471.9) scale(1.0 1.065)" font-size="11.0">b</text>
<text transform="translate(497.7 557) scale(1.0 1.065)" font-size="11.0">m</text>
<text transform="translate(498.88 514) scale(1.0 1.065)" font-size="11.0">fgh</text>
<text transform="translate(514.91 517.7) scale(1.0 1.065)" font-size="11.0">hij</text>
<text transform="translate(527.16 470.1) scale(1.0 1.065)" font-size="11.0">b</text>
<text transform="translate(536.17 529.3) scale(1.0 1.065)" font-size="11.0">jkl</text>
<text transform="translate(546.37 485) scale(1.0 1.065)" font-size="11.0">cd</text>
<text transform="translate(563.67 538.9) scale(1.0 1.065)" font-size="11.0">l</text>
<text transform="translate(565.44 520.1) scale(1.0 1.065)" font-size="11.0">ghi</text>
<path d="M242.3 343.2V612.3H579.7" stroke="#222" stroke-width="1.25" fill="none"/>
<path d="M242.3 612.3H247.1" stroke="#2a2a2a" stroke-width="1.25"/>
<text transform="translate(236.6 617.7) scale(0.99 1.06)" font-size="12.5" text-anchor="end">0.0</text>
<path d="M242.3 558.6H247.1" stroke="#2a2a2a" stroke-width="1.25"/>
<text transform="translate(236.6 564) scale(0.99 1.06)" font-size="12.5" text-anchor="end">0.2</text>
<path d="M242.3 504.9H247.1" stroke="#2a2a2a" stroke-width="1.25"/>
<text transform="translate(236.6 510.3) scale(0.99 1.06)" font-size="12.5" text-anchor="end">0.4</text>
<path d="M242.3 451.2H247.1" stroke="#2a2a2a" stroke-width="1.25"/>
<text transform="translate(236.6 456.6) scale(0.99 1.06)" font-size="12.5" text-anchor="end">0.6</text>
<path d="M242.3 397.5H247.1" stroke="#2a2a2a" stroke-width="1.25"/>
<text transform="translate(236.6 402.9) scale(0.99 1.06)" font-size="12.5" text-anchor="end">0.8</text>
<path d="M242.3 343.7H247.1" stroke="#2a2a2a" stroke-width="1.25"/>
<text transform="translate(236.6 349.1) scale(0.99 1.06)" font-size="12.5" text-anchor="end">1.0</text>
<text transform="translate(255.55 627.5) scale(0.99 1.06)" font-size="12.5" text-anchor="middle">SD</text>
<text transform="translate(276.43 627.5) scale(0.99 1.06)" font-size="12.5" text-anchor="middle">HZ</text>
<text transform="translate(297.31 627.5) scale(0.99 1.06)" font-size="12.5" text-anchor="middle">JC</text>
<text transform="translate(318.19 627.5) scale(0.99 1.06)" font-size="12.5" text-anchor="middle">ZQ</text>
<text transform="translate(339.07 627.5) scale(0.99 1.06)" font-size="12.5" text-anchor="middle">QC</text>
<text transform="translate(359.95 627.5) scale(0.99 1.06)" font-size="12.5" text-anchor="middle">KT</text>
<text transform="translate(380.83 627.5) scale(0.99 1.06)" font-size="12.5" text-anchor="middle">LX</text>
<text transform="translate(401.71 627.5) scale(0.99 1.06)" font-size="12.5" text-anchor="middle">QZ</text>
<text transform="translate(422.59 627.5) scale(0.99 1.06)" font-size="12.5" text-anchor="middle">MJ</text>
<text transform="translate(443.47 627.5) scale(0.99 1.06)" font-size="12.5" text-anchor="middle">AN</text>
<text transform="translate(464.35 627.5) scale(0.99 1.06)" font-size="12.5" text-anchor="middle">YZ</text>
<text transform="translate(485.23 627.5) scale(0.99 1.06)" font-size="12.5" text-anchor="middle">LZ</text>
<text transform="translate(506.11 627.5) scale(0.99 1.06)" font-size="12.5" text-anchor="middle">CX</text>
<text transform="translate(526.99 627.5) scale(0.99 1.06)" font-size="12.5" text-anchor="middle">GZ</text>
<text transform="translate(547.87 627.5) scale(0.99 1.06)" font-size="12.5" text-anchor="middle">XH</text>
<text transform="translate(568.75 627.5) scale(0.99 1.06)" font-size="12.5" text-anchor="middle">TZ</text>
</g>
<text transform="translate(230.1 318.7) scale(0.99 1.06)" font-size="12.6" text-anchor="middle">Germplasms</text>
<text transform="translate(637.8 319.3) scale(0.99 1.06)" font-size="12.6" text-anchor="middle">Germplasms</text>
<text transform="translate(421.2 645.6) scale(0.99 1.06)" font-size="12.6" text-anchor="middle">Germplasms</text>
<rect x="60.7" y="12.8" width="30.5" height="15" fill="#fff" stroke="#222" stroke-width="1.1"/>
<text transform="translate(94.8 25.2) scale(0.99 1.06)" font-size="12.5">CK</text>
<rect x="122.9" y="12.8" width="30.5" height="15" fill="#c0c0c0" stroke="#222" stroke-width="1.1"/>
<text transform="translate(157.3 25.2) scale(0.99 1.06)" font-size="12.5">T</text>
<rect x="463.7" y="8.5" width="30.5" height="15.6" fill="#fff" stroke="#222" stroke-width="1.1"/>
<text transform="translate(497.8 21.3) scale(0.99 1.06)" font-size="12.5">CK</text>
<rect x="525.5" y="8.5" width="30.5" height="15.6" fill="#c0c0c0" stroke="#222" stroke-width="1.1"/>
<text transform="translate(559.3 21.3) scale(0.99 1.06)" font-size="12.5">T</text>
<rect x="244.8" y="346.1" width="31" height="14.8" fill="#fff" stroke="#666" stroke-width="0.9"/>
<text transform="translate(279.5 358.5) scale(0.99 1.06)" font-size="12.5">CK</text>
<rect x="297.4" y="346.1" width="31" height="14.8" fill="#c0c0c0" stroke="#666" stroke-width="0.9"/>
<text transform="translate(331.7 358.5) scale(0.99 1.06)" font-size="12.5">T</text>
<text x="8.8" y="13.5" font-size="20">a</text>
<text x="415.5" y="15.6" font-size="20">b</text>
<text x="198.6" y="347.5" font-size="19" font-weight="bold">c</text>
<g transform="translate(18.7,236.9) rotate(-90) scale(1 1.06)" font-size="12.5">
<text x="0" y="0" textLength="88.6" lengthAdjust="spacingAndGlyphs">Superoxide anion</text>
<text x="89.2" y="0">(</text>
<text x="94.6" y="0" textLength="25.2" lengthAdjust="spacingAndGlyphs">nmol</text>
<text x="119.9" y="0">·</text>
<text x="122.8" y="0">g</text>
<text x="130.2" y="-5.1">-1</text>
<text x="141.1" y="0">·</text>
<text x="144.7" y="0" textLength="20" lengthAdjust="spacingAndGlyphs">min</text>
<text x="165.2" y="-8.4">-1</text>
<text x="176.4" y="0">)</text>
</g>
<g transform="translate(428.1,231.3) rotate(-90) scale(1 1.06)" font-size="12.65">
<text x="0" y="0" textLength="50.6" lengthAdjust="spacingAndGlyphs">Hydrogen</text>
<text x="53.7" y="0" textLength="44.5" lengthAdjust="spacingAndGlyphs">peroxide</text>
<text x="99.6" y="0">(</text>
<text x="104.6" y="0" textLength="25.3" lengthAdjust="spacingAndGlyphs">umol</text>
<text x="130.7" y="0">·</text>
<text x="135.05" y="0">g</text>
<text x="142.35" y="-5.75" font-size="9">-</text>
<text x="146.75" y="-5.75" font-size="9">1</text>
<text x="152.6" y="0">)</text>
</g>
<g transform="translate(208.2,529.2) rotate(-90) scale(1 1.06)" font-size="12.5">
<text x="0" y="0" textLength="103.8" lengthAdjust="spacingAndGlyphs">Hydroxyl radical(%)</text>
</g>
</svg></body></html>
